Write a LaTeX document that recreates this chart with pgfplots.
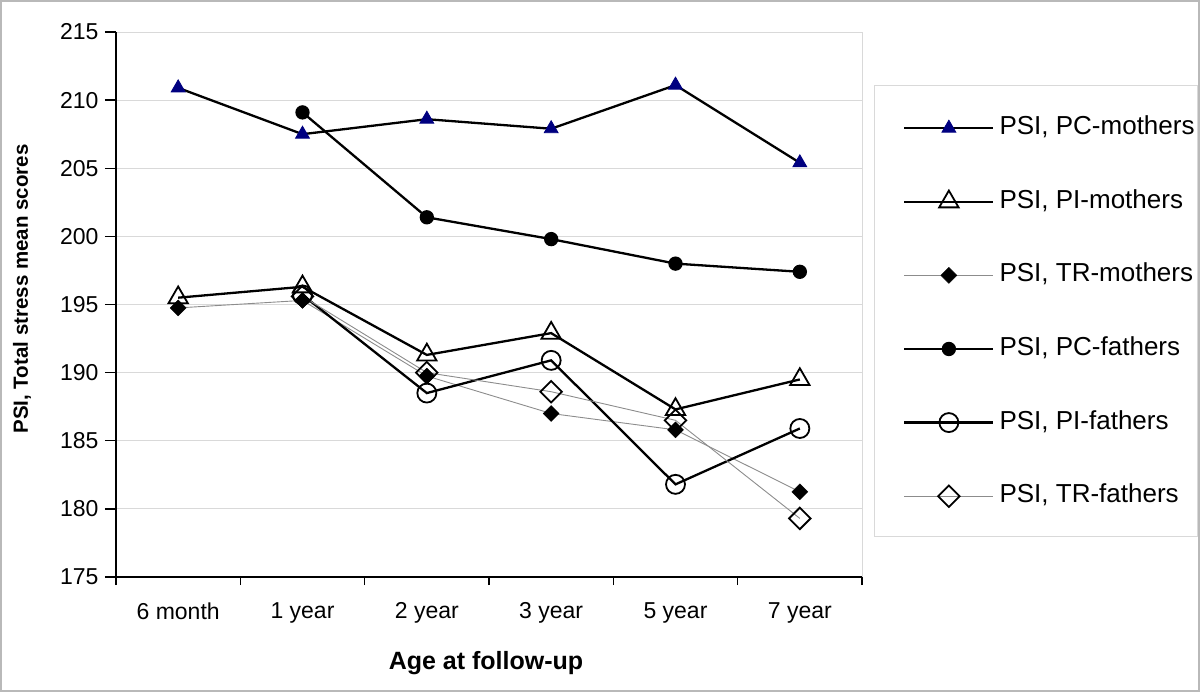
\documentclass[border=0pt]{standalone}
\usepackage{fontspec}
\setmainfont{Liberation Sans}
\usepackage{pgfplots}
\usepackage{pgfplotstable}
\pgfplotsset{compat=1.18}
\definecolor{navyblue}{RGB}{0,0,128}
\definecolor{gridgray}{RGB}{217,217,217}
\definecolor{framegray}{RGB}{185,185,185}
\definecolor{thingray}{RGB}{140,140,140}

\pgfplotstableread{
x y
0 210.9
1 207.5
2 208.6
3 207.9
4 211.1
5 205.4
}\pcmothers
\pgfplotstableread{
x y
0 195.5
1 196.3
2 191.3
3 192.9
4 187.3
5 189.5
}\pimothers
\pgfplotstableread{
x y
0 194.75
1 195.3
2 189.75
3 187.0
4 185.8
5 181.25
}\trmothers
\pgfplotstableread{
x y
1 209.1
2 201.4
3 199.8
4 198.0
5 197.4
}\pcfathers
\pgfplotstableread{
x y
1 195.7
2 188.5
3 190.9
4 181.8
5 185.9
}\pifathers
\pgfplotstableread{
x y
1 195.6
2 190.0
3 188.6
4 186.5
5 179.3
}\trfathers

\begin{document}
\begin{tikzpicture}[x=1pt,y=1pt]
\draw[framegray, line width=2pt] (1,-1) rectangle (1199,-691);
\draw[gridgray, line width=1pt] (874,-86) rectangle (1197,-536);
\begin{axis}[
  at={(116pt,-577pt)}, anchor=south west,
  scale only axis, width=746pt, height=545pt,
  xmin=-0.5, xmax=5.5, ymin=175, ymax=215,
  axis lines=left,
  axis line style={-, line width=1.6pt, black},
  xtick={0,...,5},
  xticklabels={6 month,1 year,2 year,3 year,5 year,7 year},
  minor xtick={-0.5,0.5,...,5.5},
  ytick={175,180,...,215},
  tick align=outside,
  major tick length=11pt, minor tick length=8pt,
  major x tick style={draw=none},
  tick style={black, line width=1.4pt},
  ymajorgrids, major grid style={gridgray, line width=1pt},
  /pgf/number format/assume math mode=true,
  ticklabel style={font=\fontsize{23}{25}\selectfont},
  xticklabel style={yshift=-11pt},
  yticklabel style={xshift=-3pt},
  xlabel={Age at follow-up},
  ylabel={PSI, Total stress mean scores},
  every axis x label/.style={at={(axis description cs:0.496,-0.158)}, anchor=center, font=\fontsize{25}{27}\bfseries},
  every axis y label/.style={at={(axis description cs:-0.126,0.5284)}, rotate=90, anchor=center, font=\fontsize{20.5}{22}\bfseries},
  extra description/.code={\draw[gridgray, line width=1pt] (rel axis cs:1,0) -- (rel axis cs:1,1);},
  legend image code/.code={\draw[mark repeat=2,mark phase=2,#1] plot coordinates {(0pt,0pt) (44.5pt,0pt) (89pt,0pt)};},
  legend style={at={(axis description cs:1.055,0.845)}, anchor=north west, draw=none, fill=none, inner sep=0pt, row sep=50.6pt, column sep=5pt, nodes={inner sep=0pt, text height=18pt, text depth=5pt, font=\fontsize{26}{28}\selectfont}},
  legend cell align=left,
]
\addplot[black, line width=2.3pt, mark=triangle*, mark size=8pt, mark options={fill=navyblue, draw=navyblue, line width=0.8pt}] table {\pcmothers};
\addlegendentry{PSI, PC-mothers}
\addplot[black, line width=2.3pt, mark=triangle, mark size=11.2pt, mark options={line width=1.8pt}] table {\pimothers};
\addlegendentry{PSI, PI-mothers}
\addplot[thingray, line width=0.9pt, mark=square*, mark size=5.6pt, mark options={rotate=45, fill=black, draw=black, line width=0.5pt}] table {\trmothers};
\addlegendentry{PSI, TR-mothers}
\addplot[black, line width=2.3pt, mark=*, mark size=6pt, mark options={fill=black}] table {\pcfathers};
\addlegendentry{PSI, PC-fathers}
\addplot[black, line width=2.3pt, mark=o, mark size=9.5pt, mark options={line width=1.8pt}] table {\pifathers};
\addlegendentry{PSI, PI-fathers}
\addplot[thingray, line width=0.9pt, mark=square, mark size=7.6pt, mark options={rotate=45, draw=black, line width=1.8pt}] table {\trfathers};
\addlegendentry{PSI, TR-fathers}
\end{axis}
\end{tikzpicture}
\end{document}
